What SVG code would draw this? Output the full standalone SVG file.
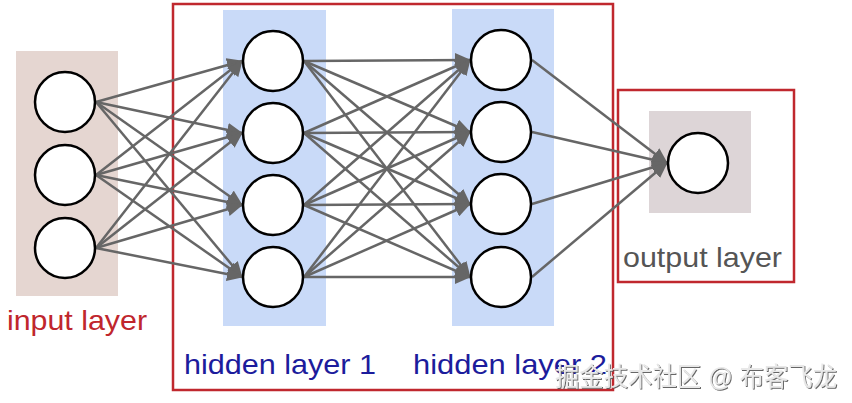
<svg xmlns="http://www.w3.org/2000/svg" width="852" height="403" viewBox="0 0 852 403">
<defs>
<marker id="arr" markerUnits="userSpaceOnUse" markerWidth="16" markerHeight="14" refX="15" refY="7" orient="auto">
<path d="M0,0 L16,7 L0,14 z" fill="#666"/>
</marker>
<filter id="sh" x="-5%" y="-20%" width="110%" height="140%">
<feDropShadow dx="1" dy="1" stdDeviation="0.6" flood-color="#555" flood-opacity="0.9"/>
</filter>
<style>
.node{fill:#fff;stroke:#000;stroke-width:2.5}
.c line{stroke:#666;stroke-width:2.5;marker-end:url(#arr)}
.box{fill:none;stroke:#c0282e;stroke-width:2.5}
.lbl{font-family:"Liberation Sans",Arial,sans-serif;font-size:28px}
</style>
</defs>
<rect width="852" height="403" fill="#fff"/>
<g id="backgrounds">
<rect x="16" y="51" width="102" height="245" fill="#e5d6d1"/>
<rect x="223" y="10" width="103" height="316" fill="#c9daf8"/>
<rect x="452" y="9" width="102" height="317" fill="#c9daf8"/>
<rect x="649" y="111" width="102" height="102" fill="#ddd5d7"/>
</g>
<g id="boxes">
<rect class="box" x="173" y="4" width="440" height="386"/>
<rect class="box" x="618" y="90" width="176" height="192"/>
</g>
<g id="connectors" class="c">
<line x1="96" y1="102" x2="242" y2="61"/>
<line x1="96" y1="102" x2="242" y2="133"/>
<line x1="96" y1="102" x2="242" y2="205"/>
<line x1="96" y1="102" x2="242" y2="277"/>
<line x1="96" y1="175" x2="242" y2="61"/>
<line x1="96" y1="175" x2="242" y2="133"/>
<line x1="96" y1="175" x2="242" y2="205"/>
<line x1="96" y1="175" x2="242" y2="277"/>
<line x1="96" y1="248" x2="242" y2="61"/>
<line x1="96" y1="248" x2="242" y2="133"/>
<line x1="96" y1="248" x2="242" y2="205"/>
<line x1="96" y1="248" x2="242" y2="277"/>
<line x1="304" y1="61" x2="470" y2="60"/>
<line x1="304" y1="61" x2="470" y2="132"/>
<line x1="304" y1="61" x2="470" y2="204"/>
<line x1="304" y1="61" x2="470" y2="277"/>
<line x1="304" y1="133" x2="470" y2="60"/>
<line x1="304" y1="133" x2="470" y2="132"/>
<line x1="304" y1="133" x2="470" y2="204"/>
<line x1="304" y1="133" x2="470" y2="277"/>
<line x1="304" y1="205" x2="470" y2="60"/>
<line x1="304" y1="205" x2="470" y2="132"/>
<line x1="304" y1="205" x2="470" y2="204"/>
<line x1="304" y1="205" x2="470" y2="277"/>
<line x1="304" y1="277" x2="470" y2="60"/>
<line x1="304" y1="277" x2="470" y2="132"/>
<line x1="304" y1="277" x2="470" y2="204"/>
<line x1="304" y1="277" x2="470" y2="277"/>
<line x1="532" y1="60" x2="667" y2="163"/>
<line x1="532" y1="132" x2="667" y2="163"/>
<line x1="532" y1="204" x2="667" y2="163"/>
<line x1="532" y1="277" x2="667" y2="163"/>
</g>
<g id="in1"><circle class="node" cx="65" cy="102" r="30"/></g>
<g id="in2"><circle class="node" cx="65" cy="175" r="30"/></g>
<g id="in3"><circle class="node" cx="65" cy="248" r="30"/></g>
<g id="h1a"><circle class="node" cx="273" cy="61" r="30"/></g>
<g id="h1b"><circle class="node" cx="273" cy="133" r="30"/></g>
<g id="h1c"><circle class="node" cx="273" cy="205" r="30"/></g>
<g id="h1d"><circle class="node" cx="273" cy="277" r="30"/></g>
<g id="h2a"><circle class="node" cx="501" cy="60" r="30"/></g>
<g id="h2b"><circle class="node" cx="501" cy="132" r="30"/></g>
<g id="h2c"><circle class="node" cx="501" cy="204" r="30"/></g>
<g id="h2d"><circle class="node" cx="501" cy="277" r="30"/></g>
<g id="out"><circle class="node" cx="698" cy="163" r="30"/></g>
<g id="labels">
<text class="lbl" x="7" y="330" fill="#c0262d" textLength="140" lengthAdjust="spacingAndGlyphs">input layer</text>
<text class="lbl" x="184" y="374" fill="#1c1c9c" textLength="192" lengthAdjust="spacingAndGlyphs">hidden layer 1</text>
<text class="lbl" x="413" y="374" fill="#1c1c9c" textLength="194" lengthAdjust="spacingAndGlyphs">hidden layer 2</text>
<text class="lbl" x="623" y="267" fill="#555" textLength="159" lengthAdjust="spacingAndGlyphs">output layer</text>
</g>
<text x="555" y="386" font-family="'Liberation Sans','Noto Sans CJK SC',sans-serif" font-size="26" fill="#e8e8e8" filter="url(#sh)" textLength="282" lengthAdjust="spacingAndGlyphs">掘金技术社区 @ 布客飞龙</text>
</svg>
